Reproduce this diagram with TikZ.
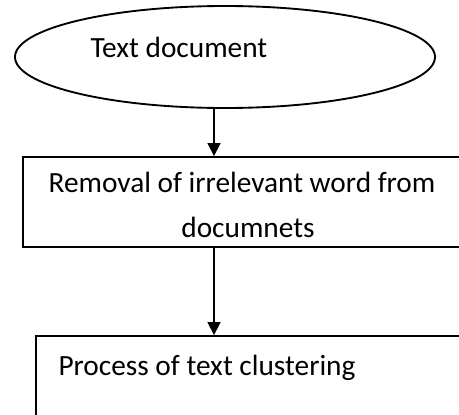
\documentclass[tikz,border=0pt]{standalone}
\usepackage{fontspec}
\setmainfont{Carlito}
\usetikzlibrary{shapes.geometric,arrows.meta}
\begin{document}
\begin{tikzpicture}[x=0.375pt,y=-0.375pt,
  shapeline/.style={draw=black,line width=0.7pt},
  txt/.style={inner sep=0pt,font=\fontsize{11}{16.5}\selectfont},
  arr/.style={line width=0.6pt,-{Triangle[length=4.9pt,width=4.9pt]}}]
\clip (0,0) rectangle (459,414);
\fill[white] (0,0) rectangle (459,414);
% ellipse
\node[shapeline,ellipse,inner sep=0pt,minimum width=157.5pt,minimum height=38.25pt] (e) at (225,57) {};
\node[txt,anchor=base west] (t1) at (90,57) {Text document};
% box 2
\node[shapeline,rectangle,inner sep=0pt,minimum width=166.5pt,minimum height=33.75pt] (b2) at (245,202) {};
\node[txt,anchor=base] (t2a) at (242,192) {Removal of irrelevant word from};
\node[txt,anchor=base] (t2b) at (248,237) {documnets};
% box 3
\node[shapeline,rectangle,inner sep=0pt,minimum width=166.5pt,minimum height=35.25pt] (b3) at (258,383) {};
\node[txt,anchor=base west] (t3) at (58,375) {Process of text clustering};
% connectors
\coordinate (ax) at (214,0);
\draw[arr] (ax |- e.south) -- (ax |- b2.north);
\draw[arr] (ax |- b2.south) -- (ax |- b3.north);
\end{tikzpicture}
\end{document}
